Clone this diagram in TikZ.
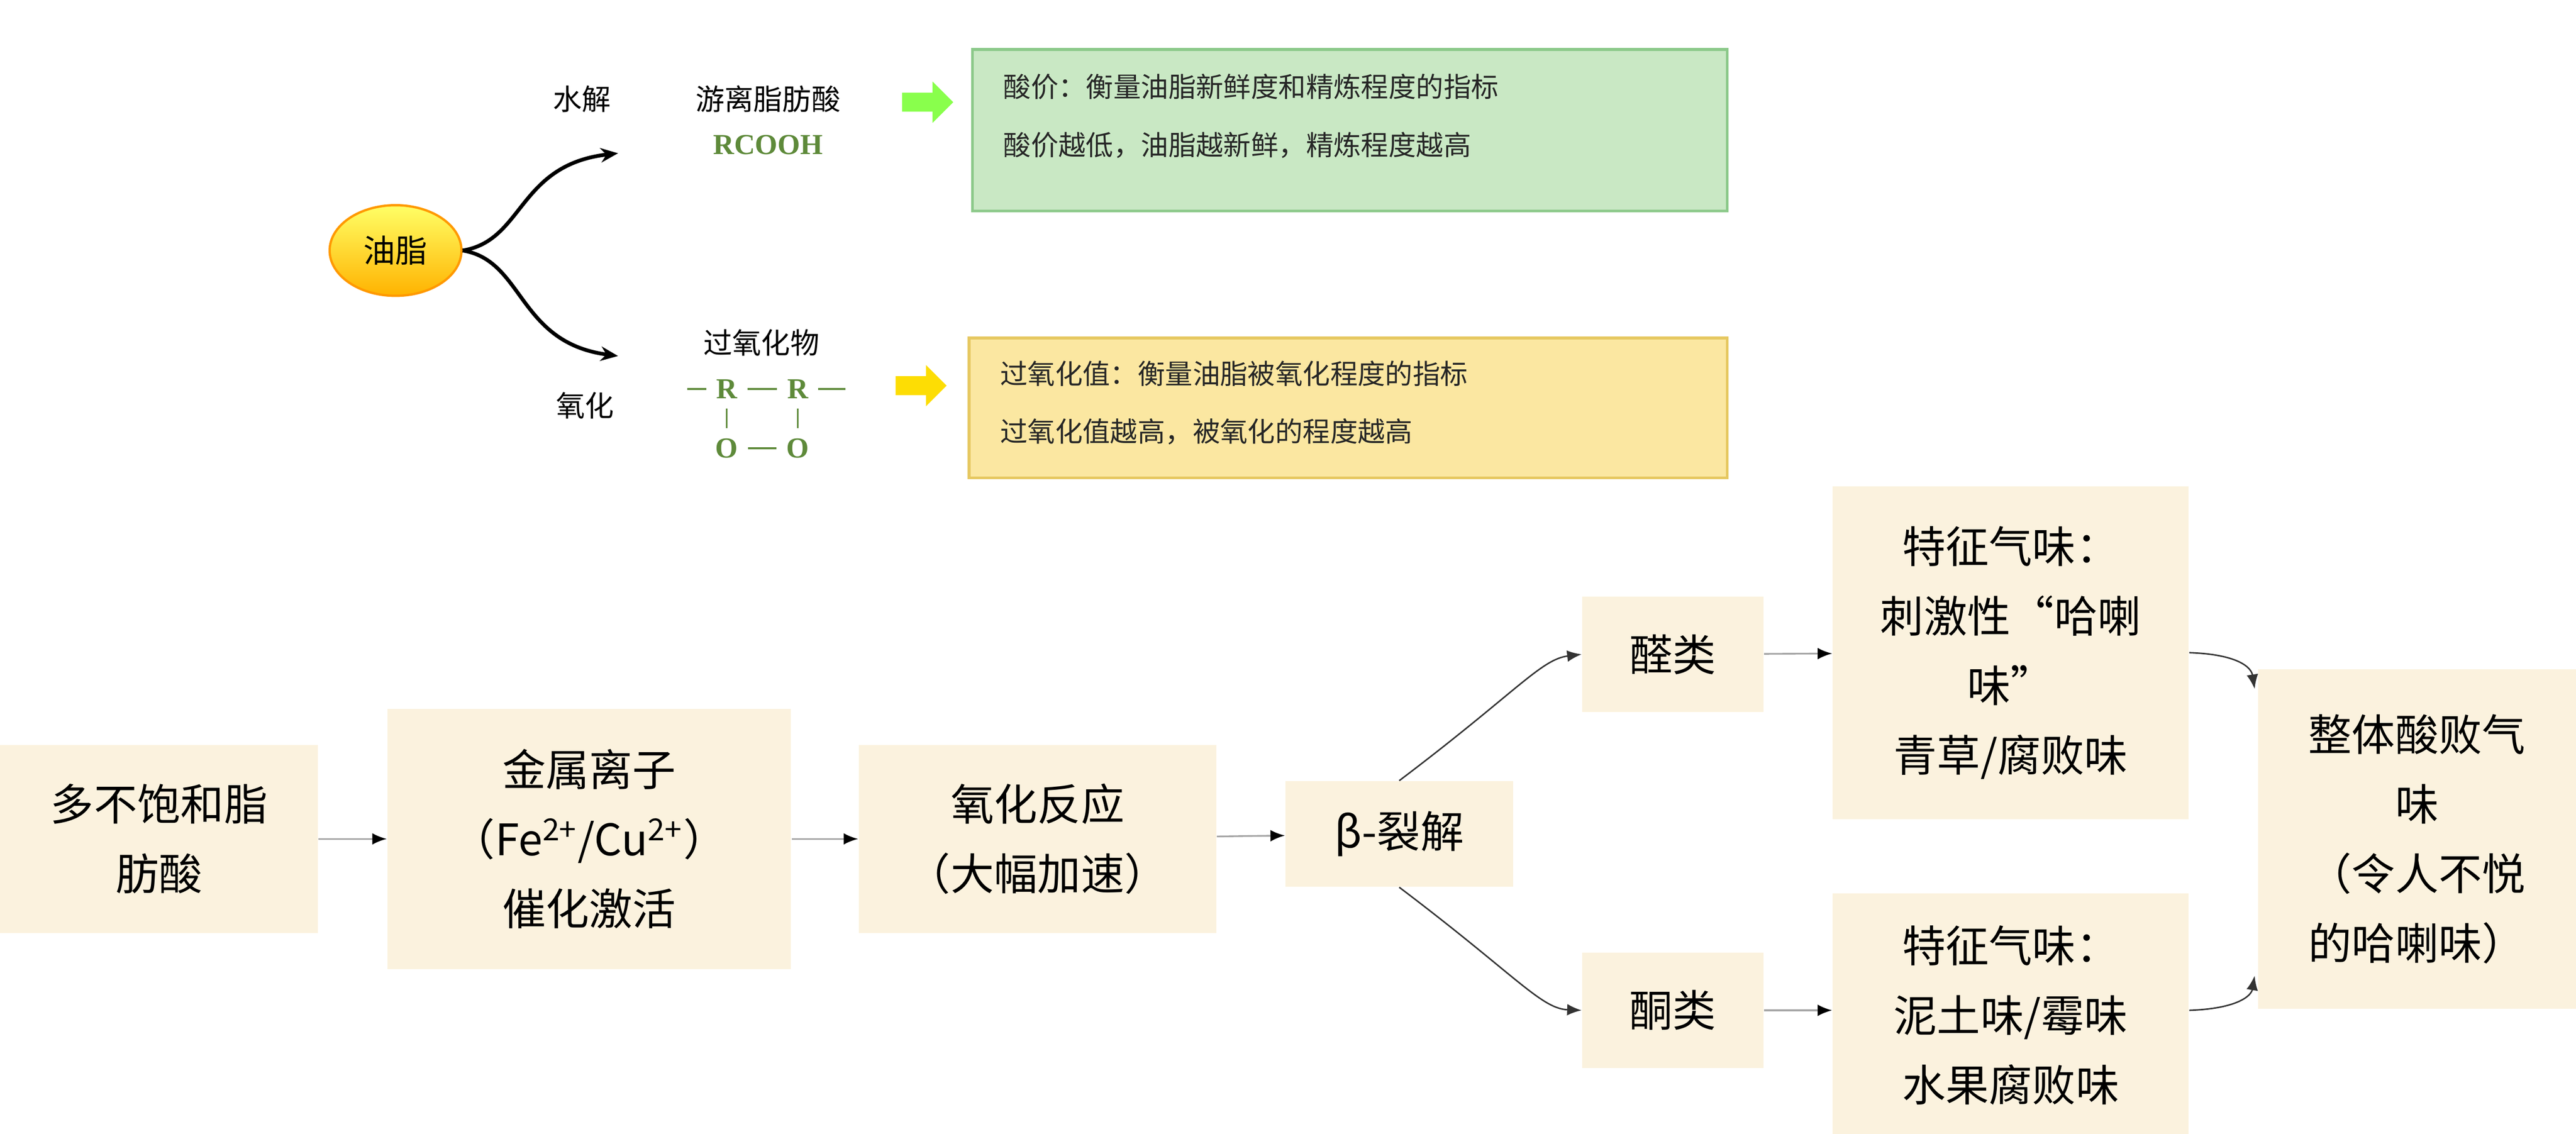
\documentclass[tikz,border=0pt]{standalone}
\usepackage{fontspec}
\setmainfont{Noto Sans CJK SC}
\newfontfamily\chemfont{Liberation Serif}
\usetikzlibrary{arrows.meta,shapes.geometric,shapes.arrows}
\definecolor{boxfill}{HTML}{FBF2DE}
\definecolor{acidfill}{HTML}{C9E8C4}
\definecolor{acidline}{HTML}{8CC98A}
\definecolor{perfill}{HTML}{FBE7A1}
\definecolor{perline}{HTML}{E6C861}
\definecolor{chemgreen}{HTML}{5E8A3A}
\tikzset{
  flowbox/.style={fill=boxfill, draw=none, align=center, font=\fontsize{15}{24}\selectfont, inner sep=0pt},
  flowarrow/.style={draw=gray!70, line width=0.6pt, -{Latex[length=5pt,width=4pt,black]}},
  bentarrow/.style={draw=black!80, line width=0.5pt, -{Latex[length=5pt,width=4pt]}},
  toparrow/.style={black, line width=1.3pt, -{Stealth[length=6pt,width=5pt]}},
  note/.style={font=\fontsize{10}{15}\selectfont},
  infobox/.style={align=left, anchor=north west, inner sep=0pt, line width=1pt, font=\fontsize{9.5}{20}\selectfont, text=black!85},
  blockarrow/.style={single arrow, minimum height=0.62cm, minimum width=0.5cm, single arrow head extend=2pt, inner sep=1.5pt, draw=none}
}
\begin{document}
\begin{tikzpicture}[x=0.02cm, y=-0.02cm]
\useasboundingbox (0,0) rectangle (1563,688);

% upper part
\node[ellipse, minimum width=1.6cm, minimum height=1.1cm, draw=orange!80!yellow, line width=0.8pt,
  top color=yellow!60, bottom color=orange!60!yellow, font=\fontsize{11}{13}\selectfont] (fat) at (240,152) {油脂};
\node[note] (hyd) at (353,60) {水解};
\node[note] (ffa) at (466,60) {游离脂肪酸};
\node[font=\chemfont\bfseries\fontsize{10}{12}\selectfont, text=chemgreen] (rcooh) at (466,88) {RCOOH};
\node[note] (oxi) at (355,246) {氧化};
\node[note] (perox) at (462,208) {过氧化物};
\coordinate (hydend) at (375,93);
\coordinate (oxiend) at (375,216);
\draw[toparrow] (fat.east) .. controls (318,146) and (314,100) .. (hydend);
\draw[toparrow] (fat.east) .. controls (318,158) and (314,208) .. (oxiend);

% peroxide structure
\begin{scope}[font=\chemfont\bfseries\fontsize{10}{12}\selectfont, text=chemgreen]
\node (ra) at (441,236) {R};
\node (rb) at (484,236) {R};
\node (oa) at (441,272) {O};
\node (ob) at (484,272) {O};
\end{scope}
\draw[chemgreen, line width=0.8pt] (417,236) -- (ra.west) (ra.east) -- (rb.west) (rb.east) -- (513,236);
\draw[chemgreen, line width=0.6pt] (ra.south) -- (oa.north) (rb.south) -- (ob.north);
\draw[chemgreen, line width=0.8pt] (oa.east) -- (ob.west);

% index boxes
\draw[fill=acidfill, draw=acidline, line width=1pt] (590,30) rectangle (1048,128);
\node[infobox] (acid) at (608,44) {酸价：衡量油脂新鲜度和精炼程度的指标\\酸价越低，油脂越新鲜，精炼程度越高};
\draw[fill=perfill, draw=perline, line width=1pt] (588,205) rectangle (1048,290);
\node[infobox] (perv) at (606,218) {过氧化值：衡量油脂被氧化程度的指标\\过氧化值越高，被氧化的程度越高};
\node[blockarrow, fill=green!55!lime!70] (garrow) at (560,62) {};
\node[blockarrow, fill=yellow!80!orange] (yarrow) at (556,234) {};

% lower flow
\node[flowbox, minimum width=3.86cm, minimum height=2.28cm] (pufa) at (96.5,509) {多不饱和脂\\肪酸};
\node[flowbox, minimum width=4.9cm, minimum height=3.16cm] (metal) at (357.5,509) {金属离子\\（Fe\textsuperscript{2+}/Cu\textsuperscript{2+}）\\催化激活};
\node[flowbox, minimum width=4.34cm, minimum height=2.28cm] (react) at (629.5,509) {氧化反应\\（大幅加速）};
\node[flowbox, minimum width=2.76cm, minimum height=1.28cm] (beta) at (849,506) {β-裂解};
\node[flowbox, minimum width=2.2cm, minimum height=1.4cm] (ald) at (1015,397) {醛类};
\node[flowbox, minimum width=2.2cm, minimum height=1.4cm] (ket) at (1015,613) {酮类};
\node[flowbox, minimum width=4.32cm, minimum height=4.04cm] (smella) at (1220,396) {特征气味：\\刺激性“哈喇\\味”\\青草/腐败味};
\node[flowbox, minimum width=4.32cm, minimum height=2.92cm, text depth=0pt] (smellb) at (1220,615) {特征气味：\\泥土味/霉味\\水果腐败味};
\node[flowbox, minimum width=3.86cm, minimum height=4.12cm] (whole) at (1466.5,509) {整体酸败气\\味\\（令人不悦\\的哈喇味）};

\draw[flowarrow] (pufa) -- (metal);
\draw[flowarrow] (metal) -- (react);
\draw[flowarrow] (react) -- (beta);
\draw[flowarrow] (ald) -- (smella);
\draw[flowarrow] (ket) -- (smellb.west |- ket);
\draw[bentarrow] (beta.north) .. controls (920,420) and (935,400) .. (ald.west);
\draw[bentarrow] (beta.south) .. controls (920,592) and (935,612) .. (ket.west);
\draw[bentarrow] (smella.east) .. controls (1358,397) and (1366,405) .. (1368,418);
\draw[bentarrow] (smellb.east |- ket) .. controls (1358,612) and (1366,604) .. (1368,592);
\end{tikzpicture}
\end{document}
